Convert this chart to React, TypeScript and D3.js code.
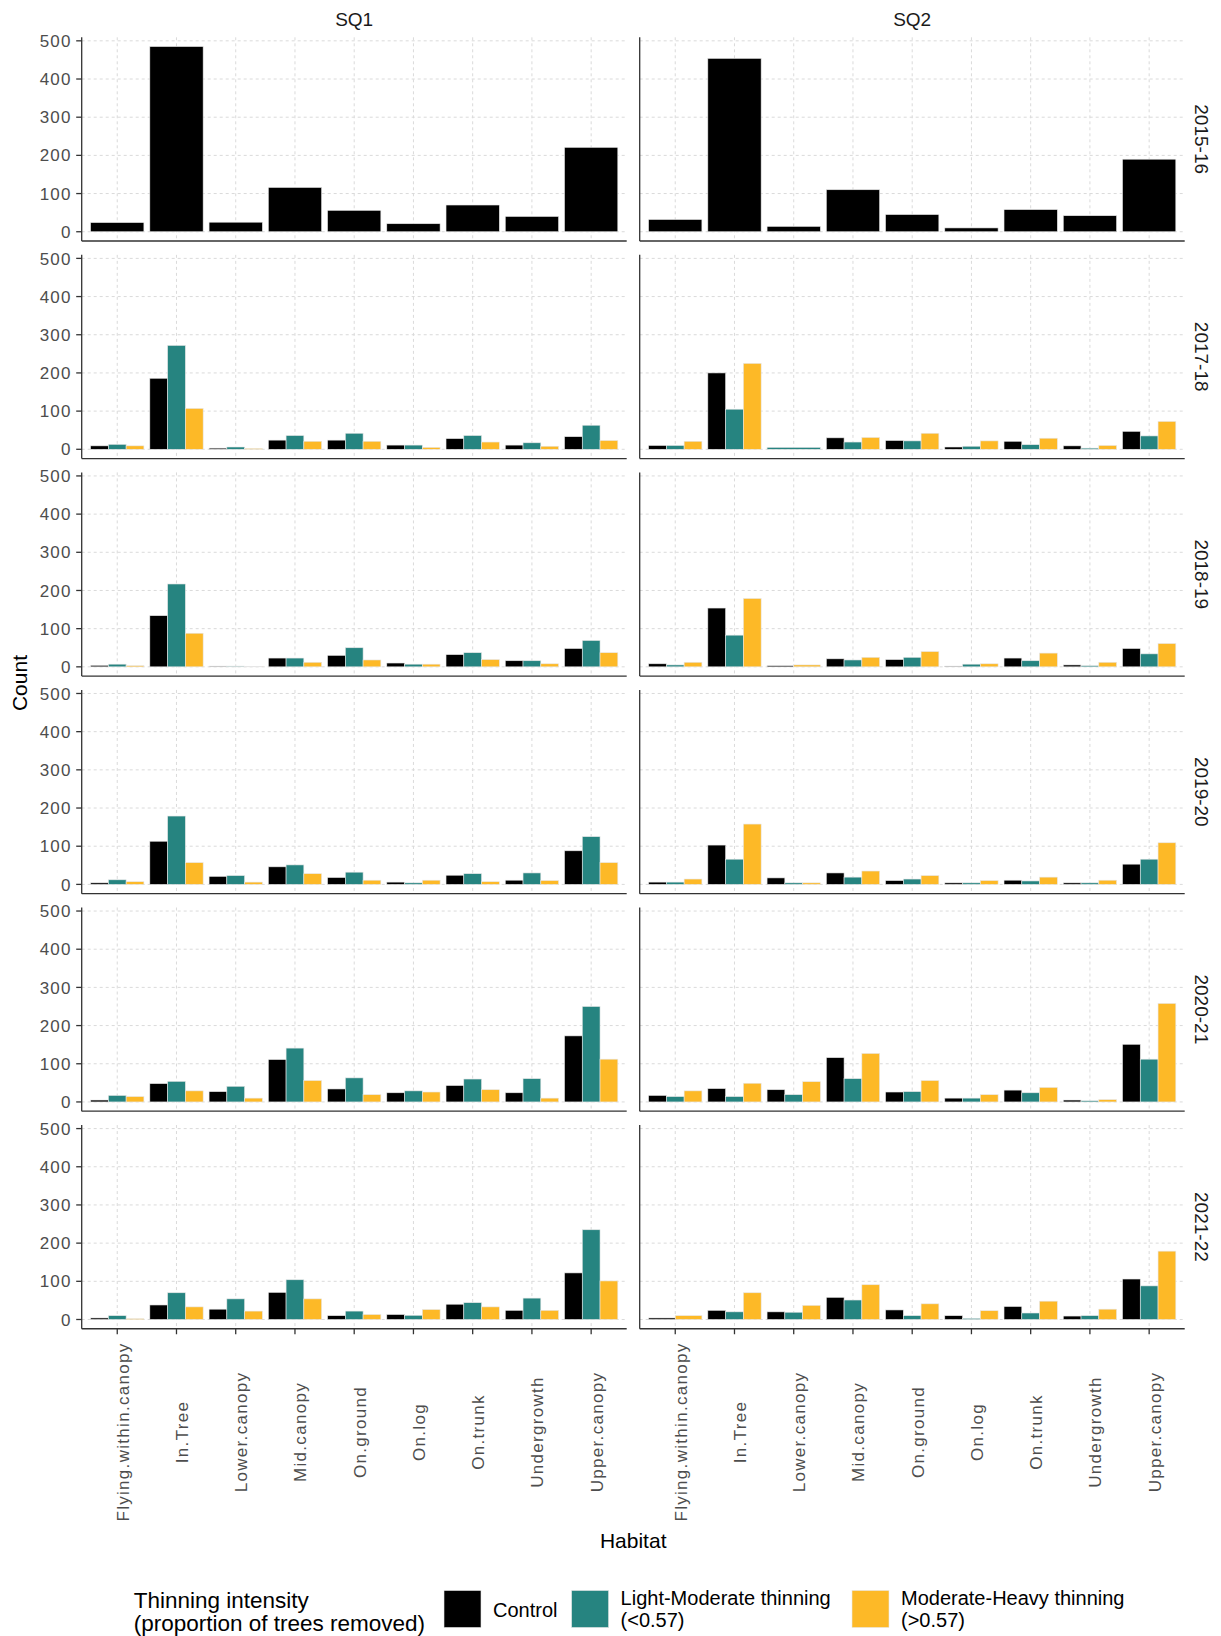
import React from "react";
import * as d3 from "d3";

const habitats = [
  "Flying.within.canopy",
  "In.Tree",
  "Lower.canopy",
  "Mid.canopy",
  "On.ground",
  "On.log",
  "On.trunk",
  "Undergrowth",
  "Upper.canopy",
];
const sites = ["SQ1", "SQ2"];
const years = ["2015-16", "2017-18", "2018-19", "2019-20", "2020-21", "2021-22"];
const treatmentLabels = [
  ["Control"],
  ["Light-Moderate thinning", "(<0.57)"],
  ["Moderate-Heavy thinning", "(>0.57)"],
];
const treatmentColors = ["#000000", "#268480", "#FDB927"];
const yTicks = [0, 100, 200, 300, 400, 500];

const N = null;
const NONE = [N, N, N, N, N, N, N, N, N];

// rows = years, columns = habitats
const controlSQ1 = [
  [24, 485, 25, 116, 56, 21, 70, 40, 221],
  [9, 186, 3, 24, 24, 11, 28, 11, 33],
  [4, 134, 2, 23, 30, 10, 32, 16, 48],
  [4, 113, 21, 46, 18, 6, 24, 11, 88],
  [5, 48, 27, 111, 34, 24, 43, 24, 173],
  [4, 38, 27, 71, 10, 13, 40, 24, 122],
];
const lightSQ1 = [
  NONE,
  [13, 272, 6, 36, 42, 11, 36, 17, 63],
  [7, 217, 2, 23, 50, 7, 37, 16, 69],
  [12, 179, 23, 51, 32, 4, 28, 30, 125],
  [17, 54, 41, 141, 63, 29, 60, 61, 250],
  [10, 70, 54, 104, 22, 11, 44, 56, 235],
];
const heavySQ1 = [
  NONE,
  [9, 107, 2, 21, 21, 5, 19, 8, 23],
  [3, 88, 1, 12, 18, 7, 19, 8, 37],
  [7, 57, 6, 28, 11, 11, 7, 10, 57],
  [14, 29, 10, 56, 19, 26, 32, 10, 112],
  [2, 33, 22, 54, 13, 26, 33, 24, 101],
];
const controlSQ2 = [
  [32, 454, 14, 110, 45, 10, 58, 42, 190],
  [10, 200, N, 30, 23, 6, 21, 9, 47],
  [8, 154, 3, 21, 19, 2, 23, 5, 48],
  [6, 103, 17, 30, 10, 4, 11, 4, 53],
  [17, 35, 32, 116, 26, 10, 31, 5, 151],
  [4, 24, 20, 58, 25, 10, 34, 9, 106],
];
const lightSQ2 = [
  NONE,
  [10, 105, 5, 19, 22, 8, 12, 3, 35],
  [5, 83, N, 18, 25, 7, 16, 3, 34],
  [6, 66, 4, 19, 14, 4, 9, 4, 66],
  [14, 14, 19, 61, 27, 10, 24, 3, 112],
  [N, 20, 19, 51, 10, 3, 17, 10, 88],
];
const heavySQ2 = [
  NONE,
  [21, 225, N, 31, 42, 22, 29, 10, 73],
  [12, 179, 5, 25, 40, 8, 36, 12, 61],
  [14, 158, 4, 35, 23, 10, 19, 11, 109],
  [29, 49, 53, 127, 56, 19, 38, 6, 258],
  [10, 70, 37, 91, 41, 23, 48, 27, 179],
];

const seriesBySite = [
  [controlSQ1, lightSQ1, heavySQ1],
  [controlSQ2, lightSQ2, heavySQ2],
];

const FONT = "'Liberation Sans', Arial, Helvetica, sans-serif";

export default function App() {
  const W = 1221;
  const H = 1636;
  const panelLefts = [81.7, 639.7];
  const panelW = 545.0;
  const firstTop = 37.3;
  const rowStep = 217.55;
  const panelH = 203.7;

  const allVals: number[] = [];
  seriesBySite.forEach((s) =>
    s.forEach((tr) => tr.forEach((row) => row.forEach((v) => { if (v != null) allVals.push(v); })))
  );
  const maxV = d3.max(allVals) as number;
  const pad = maxV * 0.05;

  const xBand = d3
    .scaleBand<string>()
    .domain(habitats)
    .range([0, panelW])
    .paddingInner(0.1)
    .paddingOuter(0.15);

  const panels: any[] = [];
  years.forEach((yr, r) => {
    const top = firstTop + r * rowStep;
    const bottom = top + panelH;
    const y = d3.scaleLinear().domain([-pad, maxV + pad]).range([bottom, top]);
    sites.forEach((site, c) => {
      const left = panelLefts[c];
      const series = seriesBySite[c];
      const isBottom = r === years.length - 1;
      panels.push(
        <g key={`p-${r}-${c}`}>
          {yTicks.map((t) => (
            <line
              key={`gy${t}`}
              x1={left}
              x2={left + panelW}
              y1={y(t)}
              y2={y(t)}
              stroke="#dadada"
              strokeWidth={1}
              strokeDasharray="3,3"
            />
          ))}
          {habitats.map((h) => {
            const cx = left + (xBand(h) as number) + xBand.bandwidth() / 2;
            return (
              <line
                key={`gx${h}`}
                x1={cx}
                x2={cx}
                y1={top}
                y2={bottom}
                stroke="#dadada"
                strokeWidth={1}
                strokeDasharray="3,3"
              />
            );
          })}
          {habitats.map((h, hi) => {
            const present = [0, 1, 2].filter((ti) => series[ti][r][hi] != null);
            const inner = d3
              .scaleBand<number>()
              .domain(present)
              .range([left + (xBand(h) as number), left + (xBand(h) as number) + xBand.bandwidth()]);
            return present.map((ti) => {
              const v = series[ti][r][hi] as number;
              return (
                <rect
                  key={`b${hi}-${ti}`}
                  x={inner(ti) as number}
                  width={inner.bandwidth()}
                  y={y(v)}
                  height={y(0) - y(v)}
                  fill={treatmentColors[ti]}
                  stroke="#e6e6e6"
                  strokeWidth={0.6}
                />
              );
            });
          })}
          <line x1={left} x2={left} y1={top} y2={bottom} stroke="#333" strokeWidth={1.3} />
          <line x1={left} x2={left + panelW} y1={bottom} y2={bottom} stroke="#333" strokeWidth={1.3} />
          {c === 0 &&
            yTicks.map((t) => (
              <g key={`yt${t}`}>
                <line x1={left - 5.5} x2={left} y1={y(t)} y2={y(t)} stroke="#333" strokeWidth={1.3} />
                <text
                  x={left - 10}
                  y={y(t)}
                  dy="0.36em"
                  textAnchor="end"
                  fontSize={17}
                  letterSpacing={1.2}
                  fill="#4d4d4d"
                  fontFamily={FONT}
                >
                  {t}
                </text>
              </g>
            ))}
          {isBottom &&
            habitats.map((h) => {
              const cx = left + (xBand(h) as number) + xBand.bandwidth() / 2;
              return (
                <g key={`xt${h}`}>
                  <line x1={cx} x2={cx} y1={bottom} y2={bottom + 5.5} stroke="#333" strokeWidth={1.3} />
                  <text
                    transform={`translate(${cx + 11.5},${1432}) rotate(-90)`}
                    textAnchor="middle"
                    fontSize={17}
                    letterSpacing={1.3}
                    fill="#4d4d4d"
                    fontFamily={FONT}
                  >
                    {h}
                  </text>
                </g>
              );
            })}
          {r === 0 && (
            <text
              x={left + panelW / 2}
              y={26}
              textAnchor="middle"
              fontSize={19}
              fill="#1a1a1a"
              fontFamily={FONT}
            >
              {site}
            </text>
          )}
          {c === 1 && (
            <text
              transform={`translate(${1195},${(top + bottom) / 2}) rotate(90)`}
              textAnchor="middle"
              fontSize={19}
              fill="#1a1a1a"
              fontFamily={FONT}
            >
              {yr}
            </text>
          )}
        </g>
      );
    });
  });

  const keyXs = [444, 571.6, 852];
  const keySize = 37;
  const keyY = 1590.5;

  return (
    <svg
      width={W}
      height={H}
      style={{ position: "absolute", left: 0, top: 0, background: "#fff" }}
    >
      <rect x={0} y={0} width={W} height={H} fill="#fff" />
      {panels}
      <text
        transform={`translate(27,${(firstTop + 5 * rowStep + panelH + firstTop) / 2}) rotate(-90)`}
        textAnchor="middle"
        fontSize={21}
        fill="#000"
        fontFamily={FONT}
      >
        Count
      </text>
      <text
        x={(panelLefts[0] + panelLefts[1] + panelW) / 2}
        y={1548}
        textAnchor="middle"
        fontSize={21}
        fill="#000"
        fontFamily={FONT}
      >
        Habitat
      </text>
      <text x={133.7} y={1607.5} fontSize={22.5} fill="#000" fontFamily={FONT}>
        Thinning intensity
      </text>
      <text x={133.7} y={1631} fontSize={22.5} fill="#000" fontFamily={FONT}>
        (proportion of trees removed)
      </text>
      {treatmentLabels.map((lab, i) => (
        <g key={`lg${i}`}>
          <rect x={keyXs[i]} y={keyY} width={keySize} height={keySize} fill={treatmentColors[i]} stroke="#e6e6e6" strokeWidth={0.6} />
          {lab.length === 1 ? (
            <text x={keyXs[i] + keySize + 12} y={1617} fontSize={20} fill="#000" fontFamily={FONT}>
              {lab[0]}
            </text>
          ) : (
            <>
              <text x={keyXs[i] + keySize + 12} y={1605} fontSize={20} fill="#000" fontFamily={FONT}>
                {lab[0]}
              </text>
              <text x={keyXs[i] + keySize + 12} y={1627} fontSize={20} fill="#000" fontFamily={FONT}>
                {lab[1]}
              </text>
            </>
          )}
        </g>
      ))}
    </svg>
  );
}
